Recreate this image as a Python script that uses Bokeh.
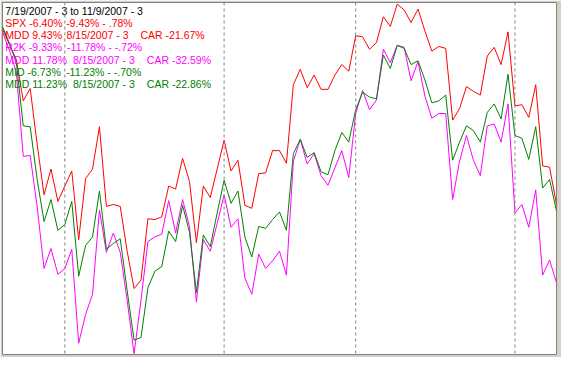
from bokeh.plotting import figure
from bokeh.models import Range1d, Span
from bokeh.core.properties import value
from bokeh.embed import file_html
from bokeh.resources import INLINE

# Percent change from 7/19/2007, one value per trading day (81 days to 11/9/2007)
spx = [0.00, -0.56, -1.11, -2.61, -2.16, -4.18, -6.03, -5.09, -6.27, -5.71,
       -5.16, -7.66, -5.44, -5.09, -3.55, -6.45, -6.38, -6.45, -8.08, -9.44,
       -9.13, -6.90, -6.93, -6.83, -5.71, -5.82, -4.70, -5.54, -7.77, -5.71,
       -6.13, -5.09, -4.04, -5.16, -4.77, -6.41, -6.52, -5.26, -5.23, -4.42,
       -4.42, -4.88, -2.02, -1.46, -2.13, -1.67, -2.19, -2.19, -1.67, -1.29,
       -1.53, -0.24, -0.28, -0.73, -0.49, 0.45, 0.10, 0.91, 0.70, 0.24,
       0.73, -0.07, -0.80, -0.63, -0.70, -3.31, -2.89, -2.09, -2.26, -2.40,
       -0.98, -0.66, -1.29, -0.10, -2.79, -2.75, -3.21, -2.02, -4.98, -5.02,
       -6.38]
r2k = [-0.10, -0.77, -1.57, -4.63, -4.60, -6.45, -8.71, -7.98, -8.92, -8.71,
       -8.01, -11.43, -10.38, -9.65, -6.58, -8.12, -7.42, -8.12, -9.86, -11.81,
       -9.86, -7.73, -7.56, -7.46, -6.24, -7.42, -6.20, -7.18, -9.93, -7.66,
       -8.08, -7.07, -6.03, -7.21, -6.90, -9.06, -9.65, -8.19, -8.71, -8.43,
       -8.08, -8.95, -4.81, -4.01, -4.91, -4.53, -5.33, -5.68, -5.05, -4.42,
       -5.40, -3.07, -2.23, -2.93, -2.58, -0.73, -1.22, -0.59, -0.66, -1.88,
       -1.18, -2.44, -3.24, -3.07, -3.07, -6.20, -4.81, -3.87, -4.77, -5.33,
       -3.52, -3.45, -4.11, -2.72, -6.69, -6.38, -7.21, -5.85, -8.95, -8.40,
       -9.23]
mid = [0.10, -0.52, -1.22, -3.52, -3.55, -5.47, -7.00, -6.20, -7.32, -7.11,
       -6.27, -8.99, -7.87, -7.56, -5.89, -8.01, -7.80, -7.63, -9.51, -11.32,
       -11.22, -9.41, -8.81, -8.64, -7.35, -7.73, -6.41, -7.39, -9.58, -7.49,
       -7.91, -6.69, -5.50, -6.34, -5.89, -7.56, -8.29, -7.18, -7.25, -6.93,
       -6.65, -7.32, -4.53, -4.01, -4.67, -4.49, -5.19, -5.30, -4.42, -3.76,
       -4.11, -2.93, -2.30, -2.47, -2.54, -0.94, -1.43, -0.59, -0.70, -1.29,
       -1.15, -1.85, -2.68, -2.61, -2.40, -4.77, -4.11, -3.52, -3.69, -4.11,
       -3.03, -2.72, -3.27, -1.64, -3.87, -3.97, -4.74, -3.55, -5.78, -5.47,
       -6.62]
days = list(range(len(spx)))
month_starts = [9, 32, 51, 74]   # Aug 1, Sep 4, Oct 1, Nov 1

title_line = "7/19/2007 - 3 to 11/9/2007 - 3"
legend_rows = [
    ("#FF0000", [(5, "SPX -6.40%"), (67.5, "-9.43% - .78%")]),
    ("#FF0000", [(5, "MDD 9.43%"), (68, "8/15/2007 - 3"), (144, "CAR -21.67%")]),
    ("#FF00FF", [(5, "R2K -9.33%"), (68.5, "-11.78% - -.72%")]),
    ("#FF00FF", [(5, "MDD 11.78%"), (74.5, "8/15/2007 - 3"), (150.5, "CAR -32.59%")]),
    ("#008000", [(5, "MID -6.73%"), (67.5, "-11.23% - -.70%")]),
    ("#008000", [(5, "MDD 11.23%"), (74.5, "8/15/2007 - 3"), (150.5, "CAR -22.86%")]),
]

W, H = 561, 357
BL, BR, BT, BB = 2, 5, 2, 3
FW = W - BL - BR
FH = H - BT - BB
X0, X1 = 0.0, 80.0
Y0, Y1 = -11.84, 0.97

p = figure(width=W, height=H, output_backend="svg", toolbar_location=None,
           x_range=Range1d(X0, X1), y_range=Range1d(Y0, Y1),
           x_axis_type=None, y_axis_type=None,
           min_border_left=BL, min_border_right=BR,
           min_border_top=BT, min_border_bottom=BB)
p.background_fill_color = "white"
p.border_fill_color = "#d4d0c8"
p.outline_line_color = "#808080"
p.outline_line_width = 1


def dx(rx):
    return X0 + (rx * W / 577 - BL) / FW * (X1 - X0)


def dy(ry):
    return Y1 - (ry * H / 373 - BT) / FH * (Y1 - Y0)


for m in month_starts:
    p.add_layout(Span(location=m, dimension="height", line_color="#808080",
                      line_width=1, line_dash="3 3"))

p.line(days, spx, line_color="#FF0000", line_width=1)
p.line(days, r2k, line_color="#FF00FF", line_width=1)
p.line(days, mid, line_color="#008000", line_width=1)

font = value("Liberation Sans")
fsize = "10.5px"
line_y = [10.5 + 12.85 * k for k in range(7)]
p.text(x=[dx(5)], y=[dy(line_y[0])], text=[title_line], text_color="black",
       text_font=font, text_font_size=fsize, text_baseline="middle", text_align="left")
for k, (col, segs) in enumerate(legend_rows):
    yy = dy(line_y[k + 1])
    p.text(x=[dx(sx) for sx, _ in segs], y=[yy] * len(segs), text=[t for _, t in segs],
           text_color=col, text_font=font, text_font_size=fsize,
           text_baseline="middle", text_align="left")

open("out.html", "w").write(file_html(p, INLINE))
